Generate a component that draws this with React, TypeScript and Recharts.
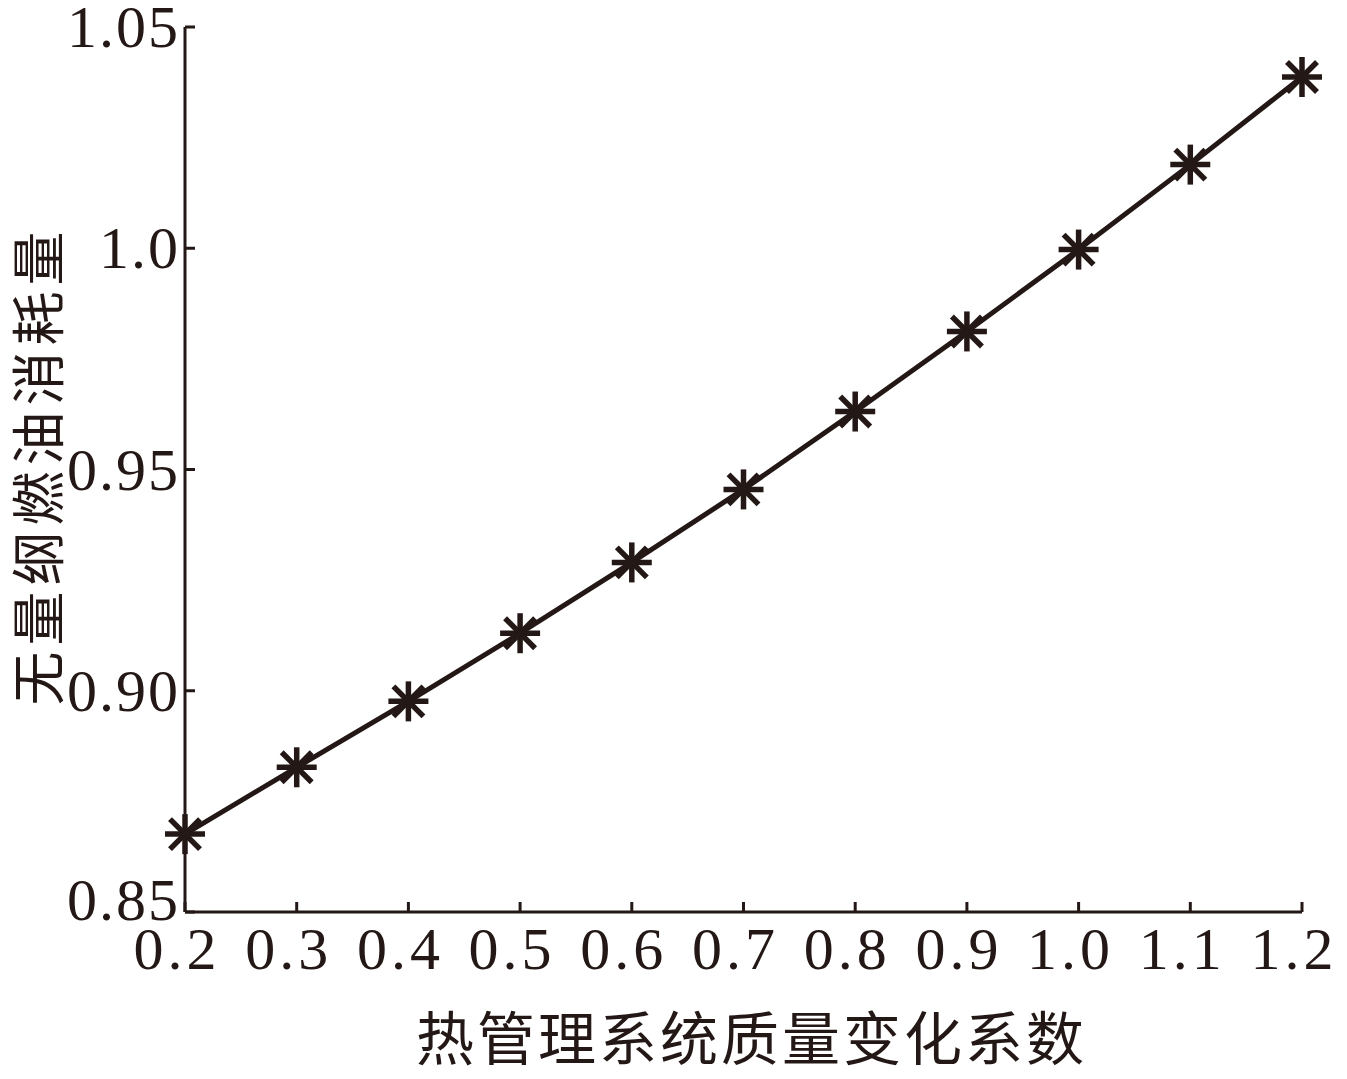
import React from "react";
import { Line, LineChart, XAxis, YAxis } from "recharts";

const massFactor = [0.2, 0.3, 0.4, 0.5, 0.6, 0.7, 0.8, 0.9, 1.0, 1.1, 1.2];
const fuelUse = [0.8676, 0.8827, 0.8976, 0.913, 0.929, 0.9455, 0.9631, 0.9812, 0.9997, 1.0189, 1.0387];
const yTicks = [0.85, 0.9, 0.95, 1.0, 1.05];
const yTickLabels = ["0.85", "0.90", "0.95", "1.0", "1.05"];
const xTitle = "热管理系统质量变化系数";
const yTitle = "无量纲燃油消耗量";

const ink = "#231815";
const serif = "'Liberation Serif', 'DejaVu Serif', serif";
const cjk = "'Noto Sans CJK SC', sans-serif";

const data = massFactor.map((x, i) => ({ x, y: fuelUse[i] }));

const Star = (props: any) => {
  const { cx, cy } = props;
  if (cx == null || cy == null) return null;
  const r = 20;
  const d = 15;
  return (
    <g stroke={ink} strokeWidth={5.5}>
      <line x1={cx - r} y1={cy} x2={cx + r} y2={cy} />
      <line x1={cx} y1={cy - r} x2={cx} y2={cy + r} />
      <line x1={cx - d} y1={cy - d} x2={cx + d} y2={cy + d} />
      <line x1={cx - d} y1={cy + d} x2={cx + d} y2={cy - d} />
    </g>
  );
};

// y tick labels, the lowest one lifted a little so it clears the x labels
const YTick = (props: any) => {
  const { x, y, payload } = props;
  const v = payload.value;
  const label = yTickLabels[yTicks.indexOf(v)] ?? String(v);
  const lift = v === yTicks[0] ? -12 : 0;
  return (
    <text
      x={x}
      y={y + lift}
      textAnchor="end"
      dominantBaseline="central"
      fill={ink}
      fontSize={60}
      fontFamily={serif}
      letterSpacing={2}
    >
      {label}
    </text>
  );
};

const App = () => {
  return (
    <div style={{ position: "absolute", left: 0, top: 0, width: 1347, height: 1079, background: "#fff" }}>
      <LineChart
        width={1347}
        height={1079}
        data={data}
        margin={{ top: 27, right: 45, bottom: 67, left: 65 }}
      >
        <XAxis
          dataKey="x"
          type="number"
          domain={[0.2, 1.2]}
          ticks={massFactor}
          tickFormatter={(v: number) => v.toFixed(1)}
          height={100}
          tickSize={-10}
          tickMargin={24}
          axisLine={{ stroke: ink, strokeWidth: 3 }}
          tickLine={{ stroke: ink, strokeWidth: 3 }}
          tick={{ fill: ink, fontSize: 60, fontFamily: serif, letterSpacing: 4, dx: -8 }}
          label={{
            content: (p: any) => {
              const vb = p.viewBox;
              return (
                <text
                  x={vb.x + vb.width / 2 + 8}
                  y={1060}
                  textAnchor="middle"
                  fill={ink}
                  fontSize={58}
                  letterSpacing={3}
                  fontFamily={cjk}
                >
                  {xTitle}
                </text>
              );
            },
          }}
        />
        <YAxis
          type="number"
          domain={[0.85, 1.05]}
          ticks={yTicks}
          width={120}
          tickSize={-10}
          tickMargin={15}
          axisLine={{ stroke: ink, strokeWidth: 3 }}
          tickLine={{ stroke: ink, strokeWidth: 3 }}
          tick={<YTick />}
          label={{
            content: (p: any) => {
              const vb = p.viewBox;
              const cy = vb.y + vb.height / 2 - 4;
              return (
                <text
                  x={35}
                  y={cy}
                  transform={`rotate(-90 35 ${cy})`}
                  textAnchor="middle"
                  dominantBaseline="central"
                  fill={ink}
                  fontSize={54}
                  letterSpacing={6}
                  fontFamily={cjk}
                >
                  {yTitle}
                </text>
              );
            },
          }}
        />
        <Line
          dataKey="y"
          type="linear"
          stroke={ink}
          strokeWidth={5}
          dot={<Star />}
          activeDot={false}
          isAnimationActive={false}
        />
      </LineChart>
    </div>
  );
};

export default App;
